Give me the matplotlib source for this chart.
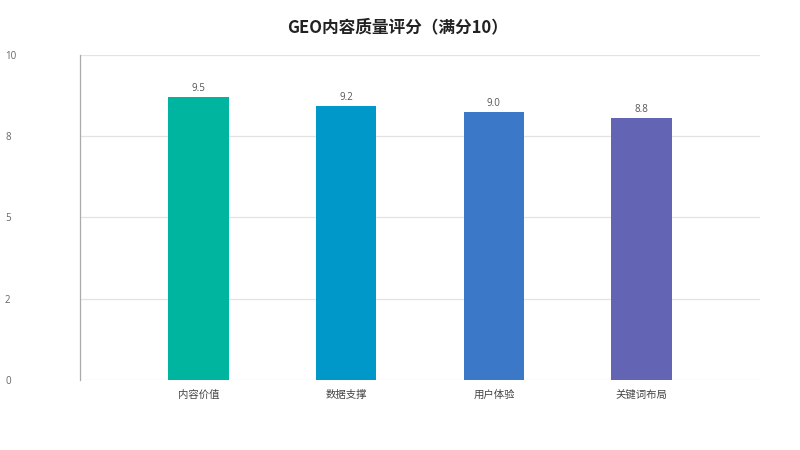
import numpy as np
import matplotlib.pyplot as plt
from matplotlib.ticker import FuncFormatter

plt.rcParams['font.family'] = ['Noto Sans CJK SC', 'DejaVu Sans']

categories = ['内容价值', '数据支撑', '用户体验', '关键词布局']
scores = [9.5, 9.2, 9.0, 8.8]
colors = ['#00B5A0', '#0097C9', '#3B78C8', '#6364B4']
title = 'GEO内容质量评分（满分10）'

f = plt.figure(figsize=(8, 4.5), dpi=100)
ax = f.add_axes([0.1, 0.1556, 0.85, 0.7222])

x = np.arange(len(categories))
bars = ax.bar(x, scores, width=0.41, color=colors, zorder=3)
for b, v in zip(bars, scores):
    ax.annotate('%.1f' % v, (b.get_x() + b.get_width() / 2, v),
                xytext=(0, 2.5), textcoords='offset points',
                ha='center', va='bottom', fontsize=7, color='#555555',
                family=['Open Sans', 'DejaVu Sans'])

top = max(scores) * 1.15
ax.set_ylim(0, top)
ax.set_xlim(-0.8, len(categories) - 0.2)
ax.set_yticks(np.linspace(0, top, 5))
ax.yaxis.set_major_formatter(FuncFormatter(lambda v, p: str(int(np.floor(v + 1e-9)))))
ax.grid(axis='y', color='#e3e3e3', linewidth=0.9, zorder=0)
ax.tick_params(axis='y', length=0, pad=54, labelsize=7, labelcolor='#666666')
for lab in ax.get_yticklabels():
    lab.set_horizontalalignment('left')
    lab.set_family(['Open Sans', 'DejaVu Sans'])
ax.set_xticks(x)
ax.set_xticklabels(categories)
ax.tick_params(axis='x', length=0, pad=7, labelsize=7.5, labelcolor='#444444')

for s in ['top', 'right', 'bottom']:
    ax.spines[s].set_visible(False)
ax.spines['left'].set_color('#aaaaaa')
ax.spines['left'].set_linewidth(0.9)

f.text(0.497, 0.94, title, ha='center', va='center', fontsize=12,
       fontweight='bold', color='#222222')

f.savefig('out.png', dpi=100)
plt.close(f)
